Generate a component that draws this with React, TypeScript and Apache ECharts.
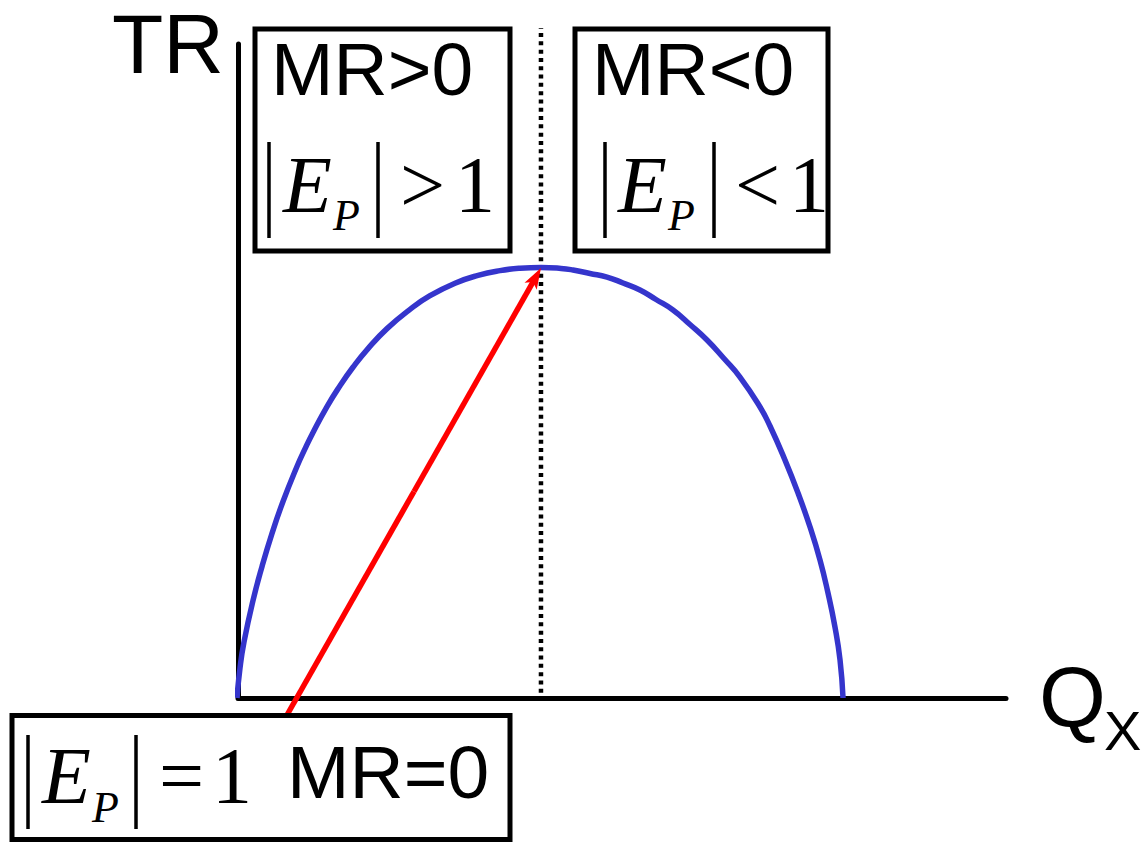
import React, { useEffect, useRef } from "react";
import * as echarts from "echarts";

// Quantity (x) and total revenue (y), in axis units (0..100)
const qValues = [-0.13, 0.26, 0.78, 1.95, 3.13, 4.43, 5.86, 7.68, 8.72, 9.77, 11.59, 13.28, 14.97, 16.93, 19.4, 22.4, 25.0, 28.26, 31.25, 34.11, 36.72, 39.45, 42.06, 43.62, 45.83, 48.05, 50.13, 52.34, 54.43, 56.64, 58.85, 61.07, 63.28, 65.36, 67.97, 69.27, 71.22, 72.92, 74.48, 75.78, 76.82, 77.73, 78.39, 78.78];
const trValues = [0, 4.59, 8.56, 14.89, 20.12, 25.17, 30.05, 35.4, 38.09, 40.6, 44.56, 47.74, 50.57, 53.43, 56.48, 59.43, 61.51, 63.43, 64.62, 65.35, 65.72, 65.84, 65.69, 65.44, 64.91, 64.37, 63.46, 62.39, 60.93, 59.33, 57.11, 54.74, 51.91, 49.08, 44.5, 41.59, 36.39, 31.35, 26.15, 21.1, 16.06, 10.86, 5.81, 0];

// Arrow from the MR=0 box to the revenue maximum
const arrowTail = [6.38, -2.6];
const arrowHead = [39.45, 65.75];
// Dotted vertical line at the maximum
const peakQ = 39.45;
const dottedBottom = 0.8;
const dottedTop = 102.45;

const axisLabels = { y: "TR", x: "Q", xSub: "X" };
const boxTexts = {
  left: { mr: "MR>0", op: ">", rhs: "1" },
  right: { mr: "MR<0", op: "<", rhs: "1" },
  bottom: { mr: "MR=0", op: "=", rhs: "1" },
};

const SANS = "'Liberation Sans', Arial, sans-serif";
const SERIF = "'Liberation Serif', 'Times New Roman', serif";
const ARROW_PATH = "path://M7,0 L14,21 L7,16 L0,21 Z";

function txt(text: string, x: number, y: number, size: number, family: string, italic = false) {
  return {
    type: "text",
    z: 10,
    style: {
      text,
      x,
      y,
      fill: "#000",
      fontSize: size,
      fontFamily: family,
      fontStyle: italic ? "italic" : "normal",
      align: "left",
      textAlign: "left",
      verticalAlign: "middle",
      textVerticalAlign: "middle",
    },
  };
}

function bar(x: number, y1: number, y2: number) {
  return {
    type: "line",
    z: 10,
    shape: { x1: x, y1, x2: x, y2 },
    style: { stroke: "#000", lineWidth: 3.5 },
  };
}

function box(x: number, y: number, w: number, h: number) {
  return {
    type: "rect",
    z: 9,
    shape: { x, y, width: w, height: h },
    style: { fill: "#fff", stroke: "#000", lineWidth: 5 },
  };
}

// point at fraction t from a to b (geometry helper for the arrow head)
function along(a: number[], b: number[], t: number) {
  return [a[0] + (b[0] - a[0]) * t, a[1] + (b[1] - a[1]) * t];
}

export default function App() {
  const ref = useRef<HTMLDivElement>(null);
  useEffect(() => {
    document.body.style.margin = "0";
    const chart = echarts.init(ref.current!, null, { renderer: "svg" });
    const curve = qValues.map((q, i) => [q, trValues[i]]);
    const axisStyle = {
      show: true,
      onZero: false,
      lineStyle: { color: "#000", width: 5 },
    };
    const mid = along(arrowTail, arrowHead, 0.5);
    // the arrow symbol is centred on its end point: pull the end back by half its length
    const headEnd = along(arrowTail, arrowHead, 1 - 10.5 / 514);
    chart.setOption({
      animation: false,
      backgroundColor: "#fff",
      grid: { left: 238, right: 137, top: 44, bottom: 144 },
      xAxis: {
        type: "value",
        min: 0,
        max: 100,
        axisLine: axisStyle,
        axisTick: { show: false },
        axisLabel: { show: false },
        splitLine: { show: false },
      },
      yAxis: {
        type: "value",
        min: 0,
        max: 100,
        axisLine: axisStyle,
        axisTick: { show: false },
        axisLabel: { show: false },
        splitLine: { show: false },
      },
      series: [
        {
          name: "dotted",
          type: "line",
          data: [
            [peakQ, dottedBottom],
            [peakQ, dottedTop],
          ],
          showSymbol: false,
          clip: false,
          z: 2,
          lineStyle: { color: "#000", width: 4.5, type: [4, 4.3] },
        },
        {
          name: "TR",
          type: "line",
          data: curve,
          smooth: 0.5,
          showSymbol: false,
          clip: false,
          lineStyle: { color: "#3535cc", width: 5.5 },
          z: 3,
        },
        {
          name: "arrow",
          type: "line",
          data: [arrowTail, mid],
          showSymbol: false,
          clip: false,
          z: 4,
          lineStyle: { color: "#ff0000", width: 5.5 },
          markLine: {
            silent: true,
            symbol: ["none", ARROW_PATH],
            symbolSize: 21,
            symbolKeepAspect: true,
            label: { show: false },
            lineStyle: { color: "#ff0000", width: 5.5, type: "solid" },
            itemStyle: { color: "#ff0000" },
            data: [[{ coord: mid }, { coord: headEnd }]],
          },
        },
      ],
      graphic: [
        // axis titles
        txt(axisLabels.y, 112, 44, 84, SANS),
        txt(axisLabels.x, 1039, 697, 86, SANS),
        txt(axisLabels.xSub, 1104, 730, 56, SANS),
        // left box
        box(255, 29, 255, 222),
        txt(boxTexts.left.mr, 271, 69, 75, SANS),
        bar(269, 142, 238),
        txt("E", 283, 184.5, 80, SERIF, true),
        txt("P", 333, 215.5, 44, SERIF, true),
        bar(378, 142, 238),
        txt(boxTexts.left.op, 400, 184.5, 80, SERIF),
        txt(boxTexts.left.rhs, 455, 184.5, 80, SERIF),
        // right box
        box(575, 29, 253, 222),
        txt(boxTexts.right.mr, 592, 69, 75, SANS),
        bar(605, 142, 238),
        txt("E", 618, 184.5, 80, SERIF, true),
        txt("P", 668, 215.5, 44, SERIF, true),
        bar(714, 142, 238),
        txt(boxTexts.right.op, 735, 184.5, 80, SERIF),
        txt(boxTexts.right.rhs, 789, 184.5, 80, SERIF),
        // bottom box
        box(12, 715.5, 498, 124),
        bar(28, 735, 829),
        txt("E", 42, 775.5, 80, SERIF, true),
        txt("P", 92, 807, 44, SERIF, true),
        bar(136, 735, 829),
        txt(boxTexts.bottom.op, 159, 775.5, 80, SERIF),
        txt(boxTexts.bottom.rhs, 212, 775.5, 80, SERIF),
        txt(boxTexts.bottom.mr, 287, 772, 75, SANS),
      ],
    });
    return () => chart.dispose();
  }, []);
  return <div ref={ref} style={{ width: 1143, height: 842 }} />;
}
